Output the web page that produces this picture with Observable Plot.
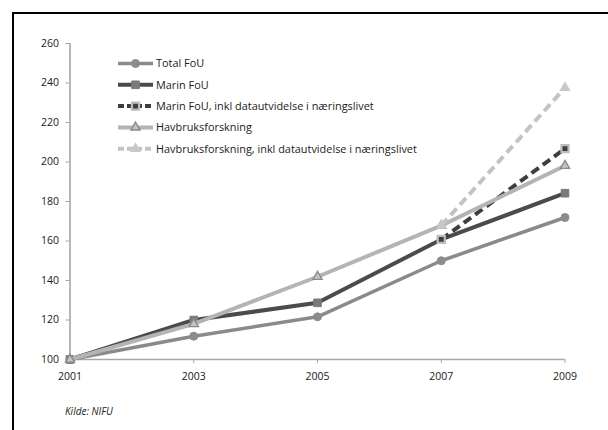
<!DOCTYPE html>
<html>
<head>
<meta charset="utf-8">
<script src="https://cdn.jsdelivr.net/npm/d3@7"></script>
<script src="https://cdn.jsdelivr.net/npm/@observablehq/plot@0.6"></script>
<style>
  html, body { margin: 0; padding: 0; background: #fff; overflow: hidden; }
  #wrap { position: relative; width: 608px; height: 430px; overflow: hidden; background: #fff; }
  #chart svg { position: absolute; left: 0; top: 0; }
  #frame { position: absolute; left: 12px; top: 12px; width: 700px; height: 500px;
           border-left: 2px solid #000; border-top: 2px solid #000; pointer-events: none; }
  #caption { position: absolute; left: 65px; top: 404px; font-family: "Open Sans", sans-serif;
             font-style: italic; font-size: 10px; color: #222; }
</style>
</head>
<body>
<div id="wrap">
  <div id="chart"></div>
  <div id="frame"></div>
  <div id="caption">Kilde: NIFU</div>
</div>
<script>
// ---- data ----
const years = [2001, 2003, 2005, 2007, 2009];
const yTicks = [100, 120, 140, 160, 180, 200, 220, 240, 260];
const seriesNames = [
  "Total FoU",
  "Marin FoU",
  "Marin FoU, inkl datautvidelse i næringslivet",
  "Havbruksforskning",
  "Havbruksforskning, inkl datautvidelse i næringslivet"
];
const totalFoU    = [100, 111.8, 121.6, 150.0, 171.9];
const marinFoU    = [100, 120.0, 128.7, 160.8, 184.2];
const marinInkl   = [null, null, null, 160.8, 206.8];
const havbruk     = [100, 118.0, 141.9, 167.8, 198.1];
const havbrukInkl = [null, null, null, 167.8, 237.6];
const seriesValues = [totalFoU, marinFoU, marinInkl, havbruk, havbrukInkl];

// ---- styles ----
const styles = [
  {stroke: "#8a8a8a", width: 3.5, dash: null,  symbol: "circle",   r: 4,   fill: "#8c8c8c", mstroke: "#8c8c8c", msw: 1},
  {stroke: "#4b4b4b", width: 4,   dash: null,  symbol: "square",   r: 4.3, fill: "#7a7a7a", mstroke: "#7a7a7a", msw: 1},
  {stroke: "#3e3e3e", width: 4,   dash: "9,5", symbol: "square",   r: 4.0, fill: "#3e3e3e", mstroke: "#bdbdbd", msw: 2.2},
  {stroke: "#b4b4b4", width: 4,   dash: null,  symbol: "triangle", r: 3.4, fill: "#c4c4c4", mstroke: "#8a8a8a", msw: 1.4},
  {stroke: "#c3c3c3", width: 4,   dash: "9,5", symbol: "triangle", r: 3.4, fill: "#c8c8c8", mstroke: "#c8c8c8", msw: 1.2}
];

const rows = seriesNames.map((name, s) =>
  years.map((yr, i) => ({series: name, year: yr, value: seriesValues[s][i]}))
);

const marks = [
  Plot.axisY({ticks: yTicks, tickSize: 4, tickPadding: 7, stroke: "#a6a6a6", fill: "#1a1a1a", label: null}),
  Plot.axisX({ticks: years, tickSize: 4, tickPadding: 9, stroke: "#a6a6a6", fill: "#1a1a1a", label: null, tickFormat: d => String(d)}),
  Plot.ruleX([2001], {stroke: "#a6a6a6", strokeWidth: 1.6}),
  Plot.ruleY([100], {stroke: "#a6a6a6", strokeWidth: 1.6})
];
rows.forEach((data, s) => {
  const st = styles[s];
  marks.push(Plot.line(data, {x: "year", y: "value", stroke: st.stroke, strokeWidth: st.width,
    strokeDasharray: st.dash || undefined, strokeLinejoin: "round", strokeLinecap: st.dash ? "butt" : "round",
    defined: d => d.value != null}));
  marks.push(Plot.dot(data.filter(d => d.value != null), {x: "year", y: "value", symbol: st.symbol, r: st.r,
    fill: st.fill, stroke: st.mstroke, strokeWidth: st.msw}));
});

const chart = Plot.plot({
  width: 608, height: 430,
  marginLeft: 69.5, marginRight: 43.5, marginTop: 43, marginBottom: 71,
  x: {domain: [2001, 2009]},
  y: {domain: [100, 260]},
  style: {fontFamily: "'Open Sans', sans-serif", fontSize: "10.5px", background: "transparent", overflow: "visible"},
  marks
});
document.getElementById("chart").appendChild(chart);

// ---- legend ----
const svg = d3.select(chart);
const lg = svg.append("g").attr("font-family", "'Open Sans', sans-serif").attr("font-size", "10.9px")
  .attr("fill", "#1a1a1a").attr("text-anchor", "start");
const symMap = {circle: d3.symbolCircle, square: d3.symbolSquare, triangle: d3.symbolTriangle};
seriesNames.forEach((name, s) => {
  const st = styles[s];
  const y = 63.5 + s * 21.3;
  lg.append("line").attr("x1", 118).attr("x2", 153).attr("y1", y).attr("y2", y)
    .attr("stroke", st.stroke).attr("stroke-width", st.width)
    .attr("stroke-dasharray", st.dash ? "6,3" : null);
  lg.append("path").attr("transform", `translate(135.5,${y})`)
    .attr("d", d3.symbol(symMap[st.symbol], Math.PI * st.r * st.r)())
    .attr("fill", st.fill).attr("stroke", st.mstroke).attr("stroke-width", st.msw);
  lg.append("text").attr("x", 156).attr("y", y).attr("dy", "0.35em").attr("text-anchor", "start").text(name);
});
</script>
</body>
</html>
